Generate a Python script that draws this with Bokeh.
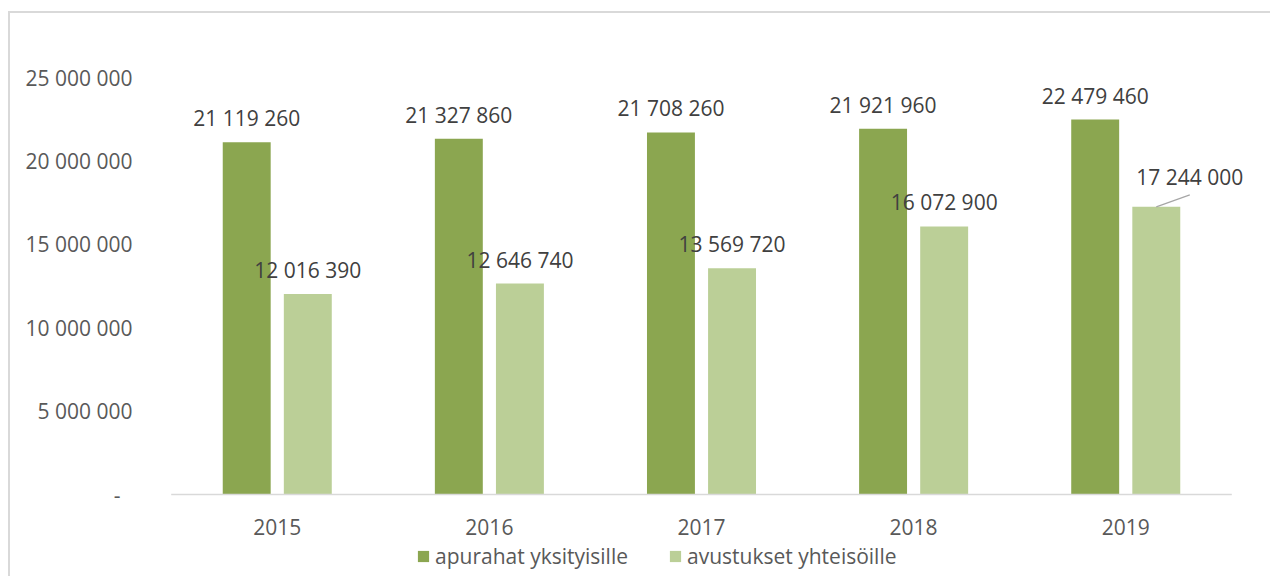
from bokeh.plotting import figure
from bokeh.models import (ColumnDataSource, LabelSet, Legend, LegendItem,
                          FixedTicker, Range1d, FactorRange)
from bokeh.core.properties import value
from bokeh.transform import dodge
from bokeh.embed import file_html
from bokeh.resources import INLINE

years = ["2015", "2016", "2017", "2018", "2019"]
apurahat = [21119260, 21327860, 21708260, 21921960, 22479460]
avustukset = [12016390, 12646740, 13569720, 16072900, 17244000]
series_names = ["apurahat yksityisille", "avustukset yhteisöille"]
y_ticks = [0, 5000000, 10000000, 15000000, 20000000, 25000000]
y_tick_labels = ["-\u2007", "5 000 000", "10 000 000", "15 000 000", "20 000 000", "25 000 000"]

DARK = "#8BA650"
LIGHT = "#BBCF97"
FONT = "Open Sans"
TICK_COL = "#595959"
LAB_COL = "#404040"

# layout (pixels)
FIG_W, FIG_H = 1262, 565
TOP_PAD = 64          # canvas top -> value 25 000 000
PLOT_H = 417          # height of 0 .. 25 000 000
Y_MAX = 25000000
px_per_unit = PLOT_H / Y_MAX
below_px = FIG_H - TOP_PAD - PLOT_H     # room under the zero line inside the frame


def fmt(v):
    return f"{v:,}".replace(",", " ")


src = ColumnDataSource(dict(
    year=years, a=apurahat, b=avustukset,
    a_lab=[fmt(v) for v in apurahat], b_lab=[fmt(v) for v in avustukset]))

n = len(years)
src_b = ColumnDataSource(dict(year=years[:n - 1], b=avustukset[:n - 1],
                              b_lab=[fmt(v) for v in avustukset[:n - 1]]))
src_b_last = ColumnDataSource(dict(year=years[n - 1:], b=avustukset[n - 1:],
                                   b_lab=[fmt(v) for v in avustukset[n - 1:]]))
src_b_lead = ColumnDataSource(dict(year=years[n - 1:], y0=avustukset[n - 1:],
                                   y1=[v + 12 / px_per_unit for v in avustukset[n - 1:]]))
src_base = ColumnDataSource(dict(first=[years[0]], last=[years[-1]], y=[0]))

p = figure(width=FIG_W, height=FIG_H, output_backend="svg", toolbar_location=None,
           x_range=FactorRange(*years, range_padding=0.14, range_padding_units="absolute"),
           y_range=Range1d(-below_px / px_per_unit, Y_MAX),
           min_border_left=131, min_border_right=11,
           min_border_top=TOP_PAD, min_border_bottom=0)
p.styles = {"border-top": "2px solid #d9d9d9", "border-left": "2px solid #d9d9d9",
            "margin-top": "11px", "margin-left": "8px"}
p.outline_line_color = None
p.background_fill_color = "white"
p.border_fill_color = "white"
p.xgrid.grid_line_color = None
p.ygrid.grid_line_color = None

W = 0.226
OFF = 0.144
r_a = p.vbar(x=dodge("year", -OFF, range=p.x_range), top="a", width=W,
             source=src, fill_color=DARK, line_color=None)
r_b = p.vbar(x=dodge("year", OFF, range=p.x_range), top="b", width=W,
             source=src, fill_color=LIGHT, line_color=None)

# category axis baseline
p.segment(x0=dodge("first", -0.5, range=p.x_range), y0="y",
          x1=dodge("last", 0.5, range=p.x_range), y1="y",
          source=src_base, line_color="#d9d9d9", line_width=1.5)

lab_kw = dict(text_font=value(FONT), text_font_size=value("21px"), text_color=LAB_COL,
              text_align="center", text_baseline="alphabetic")
p.add_layout(LabelSet(x=dodge("year", -OFF, range=p.x_range), y="a", text="a_lab",
                      source=src, y_offset=16, **lab_kw))
p.add_layout(LabelSet(x=dodge("year", OFF, range=p.x_range), y="b", text="b_lab",
                      source=src_b, y_offset=16, **lab_kw))
p.add_layout(LabelSet(x=dodge("year", 0.302, range=p.x_range), y="b", text="b_lab",
                      source=src_b_last, y_offset=22, **lab_kw))
p.segment(x0=dodge("year", OFF, range=p.x_range), y0="y0",
          x1=dodge("year", 0.302, range=p.x_range), y1="y1",
          source=src_b_lead, line_color="#a6a6a6", line_width=1.2)

# axes
p.yaxis.ticker = FixedTicker(ticks=y_ticks)
p.yaxis.major_label_overrides = {t: l for t, l in zip(y_ticks, y_tick_labels)}
p.yaxis.axis_line_color = None
p.yaxis.major_tick_line_color = None
p.yaxis.minor_tick_line_color = None
p.yaxis.major_label_standoff = 3
p.yaxis.major_label_text_font = FONT
p.yaxis.major_label_text_font_size = "21px"
p.yaxis.major_label_text_color = TICK_COL

p.xaxis.fixed_location = 0
p.xaxis.axis_line_color = None
p.xaxis.major_tick_line_color = None
p.xaxis.minor_tick_line_color = None
p.xaxis.major_label_standoff = 18
p.xaxis.major_label_text_font = FONT
p.xaxis.major_label_text_font_size = "21px"
p.xaxis.major_label_text_color = TICK_COL

legend = Legend(items=[LegendItem(label=series_names[0], renderers=[r_a]),
                       LegendItem(label=series_names[1], renderers=[r_b])],
                orientation="horizontal", location=(275, 8),
                glyph_width=14, glyph_height=14, label_standoff=5, spacing=40,
                padding=0, margin=0, border_line_color=None,
                background_fill_alpha=0,
                label_text_font=FONT, label_text_font_size="21px",
                label_text_color=TICK_COL)
p.add_layout(legend, "center")

open("out.html", "w").write(file_html(p, INLINE))
